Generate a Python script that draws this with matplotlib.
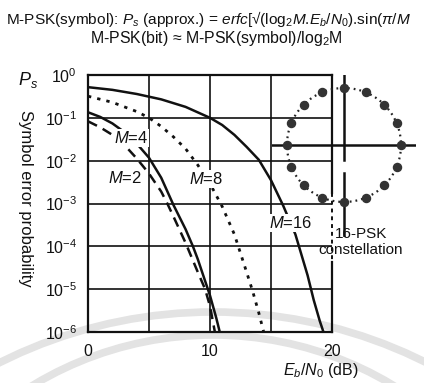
import numpy as np
import matplotlib
matplotlib.use("Agg")
import matplotlib.pyplot as plt
from matplotlib.patches import Circle, Arc

plt.rcParams['font.family'] = ['Liberation Sans', 'DejaVu Sans']
plt.rcParams['mathtext.fontset'] = 'custom'
plt.rcParams['mathtext.rm'] = 'Liberation Sans'
plt.rcParams['mathtext.it'] = 'Liberation Sans:italic'
plt.rcParams['mathtext.bf'] = 'Liberation Sans:bold'

# ---- data ----
ebn0_m16 = [0, 2, 4, 6, 8, 10, 11, 12, 13, 14, 15, 16, 17, 18, 18.5, 19, 19.3]
ps_m16 = [5.2e-1, 4.5e-1, 3.6e-1, 2.7e-1, 1.8e-1, 1.0e-1, 6.8e-2, 4.0e-2, 2.1e-2,
          1.05e-2, 3.5e-3, 8.9e-4, 1.9e-4, 2.1e-5, 5.6e-6, 1.8e-6, 1.0e-6]

ebn0_m8 = [0, 2, 4, 5, 6, 7, 8, 9, 10, 11, 12, 13, 13.5, 14, 14.4]
ps_m8 = [3.2e-1, 2.3e-1, 1.4e-1, 1.0e-1, 6.3e-2, 3.6e-2, 1.9e-2, 7.9e-3, 2.9e-3,
         8.5e-4, 1.9e-4, 2.5e-5, 8.9e-6, 2.8e-6, 1.0e-6]

ebn0_m4 = [0, 1, 2, 3, 4, 5, 6, 7, 8, 8.6, 9, 10, 10.5, 10.8]
ps_m4 = [1.35e-1, 1.05e-1, 7.4e-2, 4.6e-2, 2.5e-2, 1.17e-2, 4.0e-3, 9.3e-4,
         2.5e-4, 1.0e-4, 5.0e-5, 7.1e-6, 2.2e-6, 1.0e-6]

ebn0_m2 = [0, 1, 2, 3, 4, 5, 6, 6.5, 7, 8, 9, 9.6, 10, 10.4]
ps_m2 = [8.3e-2, 6.0e-2, 4.0e-2, 2.3e-2, 1.12e-2, 5.0e-3, 1.9e-3, 1.0e-3,
         5.0e-4, 1.2e-4, 2.5e-5, 1.0e-5, 4.0e-6, 1.0e-6]

xticks = [0, 5, 10, 15, 20]
xticklabels = ['0', '', '10', '', '20']
yticks = [1e0, 1e-1, 1e-2, 1e-3, 1e-4, 1e-5, 1e-6]
yticklabels = [r'$10^{0}$', r'$10^{-1}$', r'$10^{-2}$', r'$10^{-3}$',
               r'$10^{-4}$', r'$10^{-5}$', r'$10^{-6}$']

psk16_phase_deg = [0, 22.5, 45, 67.5, 90, 112.5, 135, 157.5, 180,
                   202.5, 225, 247.5, 270, 292.5, 315, 337.5]

W, H = 424, 383
fig = plt.figure(figsize=(W / 100, H / 100), dpi=100)
fig.patch.set_facecolor('white')

# faint scan watermark bands (background)
bg = fig.add_axes([0, 0, 1, 1], zorder=-5)
bg.set_xlim(0, W)
bg.set_ylim(H, 0)
bg.axis('off')
bg.add_patch(Arc((213, 787), 950, 950, theta1=180, theta2=360, color='#e3e3e3', lw=5.5))
bg.add_patch(Arc((213, 683), 696, 696, theta1=180, theta2=360, color='#e3e3e3', lw=5.5))

ax = fig.add_axes([88 / W, 1 - 332 / H, 244 / W, 257 / H])
ax.patch.set_alpha(0)
ax.set_yscale('log')
ax.set_xlim(0, 20)
ax.set_ylim(1e-6, 1)

ax.plot(ebn0_m16, ps_m16, color='#111111', lw=1.8, solid_capstyle='butt')
ax.plot(ebn0_m8, ps_m8, color='#111111', lw=2.0, linestyle=(0, (1.2, 2.2)))
ax.plot(ebn0_m4, ps_m4, color='#111111', lw=1.8)
ax.plot(ebn0_m2, ps_m2, color='#111111', lw=1.8, linestyle=(0, (4, 2.6)))

ax.set_xticks(xticks)
ax.set_xticklabels(xticklabels)
ax.set_yticks(yticks)
ax.set_yticklabels(yticklabels)
ax.yaxis.set_minor_locator(matplotlib.ticker.NullLocator())
ax.tick_params(axis='both', length=0, labelsize=11.5, colors='#111111')
ax.tick_params(axis='x', pad=9)
ax.tick_params(axis='y', pad=8)
ax.grid(True, color='#111111', lw=1.2)
for gl in [ax.get_xgridlines()[0], ax.get_xgridlines()[-1]]:
    gl.set_visible(False)
for side in ['left', 'top', 'bottom']:
    ax.spines[side].set_linewidth(1.6)
    ax.spines[side].set_color('#111111')
ax.spines['right'].set_visible(False)
# right border: solid, broken (dashed) near the constellation caption, solid
ax.plot([1, 1], [1, 0.539], transform=ax.transAxes, color='#111111', lw=1.6, clip_on=False)
ax.plot([1, 1], [0.539, 0.271], transform=ax.transAxes, color='#111111', lw=1.4,
        linestyle=(0, (2, 2)), clip_on=False)
ax.plot([1, 1], [0.271, 0], transform=ax.transAxes, color='#111111', lw=1.6, clip_on=False)

lab_kw = dict(fontsize=12, ha='center', va='center', color='#111111',
              bbox=dict(facecolor='white', edgecolor='none', pad=1.0))
ax.text(3.5, 0.034, r'$M$=4', **lab_kw)
ax.text(3.0, 0.0039, r'$M$=2', **lab_kw)
ax.text(9.7, 0.0037, r'$M$=8', **lab_kw)
ax.text(16.6, 3.5e-4, r'$M$=16', **lab_kw)

# 16-PSK constellation inset
cax = fig.add_axes([272 / W, 1 - 237 / H, 144 / W, 162 / H])
cax.set_xlim(-1.263, 1.263)
cax.set_ylim(-1.614, 1.228)
cax.axis('off')
cax.patch.set_alpha(0)
cax.add_patch(Circle((0, 0), 1.0, fill=False, edgecolor='#222222', lw=1.6,
                     linestyle=(0, (0.8, 1.8))))
cax.plot([-1.263, 1.263], [0, 0], color='#111111', lw=1.8)
cax.plot([0, 0], [1.228, -0.263], color='#111111', lw=1.8)
cax.plot([0, 0], [-0.49, -1.614], color='#111111', lw=1.8)
ph = np.deg2rad(psk16_phase_deg)
cax.plot(np.cos(ph), np.sin(ph), 'o', color='#333333', ms=5.8, zorder=5)

fig.text(361 / W, 1 - 242 / H, '16-PSK\nconstellation', ha='center', va='center',
         fontsize=11, color='#111111', linespacing=1.15)

# titles
fig.text(6 / W, 1 - 19 / H,
         r'M-PSK(symbol): $P_s$ (approx.) = $erfc$[√(log$_2$$M$.$E_b$/$N_0$).sin($\pi$/$M$',
         ha='left', va='center', fontsize=11.1, color='#111111')
fig.text(216 / W, 1 - 39 / H, r'M-PSK(bit) ≈ M-PSK(symbol)/log$_2$M',
         ha='center', va='center', fontsize=11.4, color='#111111')

fig.text(28 / W, 1 - 80 / H, r'$P_s$', ha='center', va='center', fontsize=13, color='#111111')
fig.text(25 / W, 1 - 198 / H, 'Symbol error probability', ha='center', va='center',
         rotation=270, fontsize=12, color='#111111')
fig.text(321 / W, 1 - 370 / H, r'$E_b$/$N_0$ (dB)', ha='center', va='center',
         fontsize=11.5, color='#111111')

fig.savefig('out.png', dpi=100, facecolor='white')
